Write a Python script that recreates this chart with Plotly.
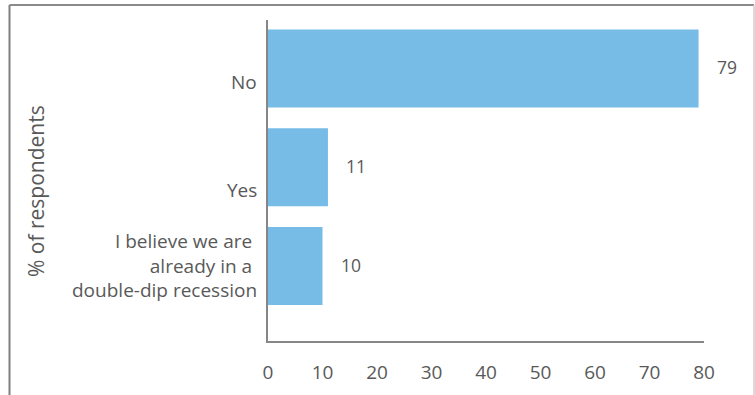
import plotly.graph_objects as go

categories = ["No", "Yes", "I believe we are <br>already in a <br>double-dip recession"]
values = [79, 11, 10]
value_labels = ["79", "11", "10"]
x_ticks = [0, 10, 20, 30, 40, 50, 60, 70, 80]
y_title = "% of respondents"

FONT = "Open Sans"
TXT = "#595959"
BAR = "#77BCE7"

fig = go.Figure()
fig.add_trace(go.Bar(
    y=categories, x=values, orientation="h",
    marker=dict(color=BAR, line=dict(width=0)),
    width=0.79, hoverinfo="skip",
))

W, H = 755, 395
L, R, T, B = 268, 51, 20, 54
pw, ph = W - L - R, H - T - B

def px_x(p):
    return (p - L) / pw

def px_y(p):
    return (H - B - p) / ph

annotations = []
label_shift = [-14, -23, 0]
for c, s in zip(categories, label_shift):
    annotations.append(dict(x=0, y=c, xref="x", yref="y", text=c.replace(" <br>", "&nbsp;<br>"),
                            showarrow=False, xanchor="right", yanchor="middle",
                            xshift=-9, yshift=s, align="right",
                            font=dict(family=FONT, size=19, color=TXT)))
for c, v, t in zip(categories, values, value_labels):
    annotations.append(dict(x=v, y=c, xref="x", yref="y", text=t, showarrow=False,
                            xanchor="left", yanchor="middle", xshift=16, yshift=1,
                            font=dict(family=FONT, size=17.5, color=TXT)))
annotations.append(dict(x=px_x(36), y=px_y(191), xref="paper", yref="paper", text=y_title,
                        textangle=-90, showarrow=False, xanchor="center", yanchor="middle",
                        font=dict(family=FONT, size=21, color=TXT)))

shapes = [
    dict(type="line", xref="paper", yref="paper", x0=px_x(9.5), x1=px_x(9.5),
         y0=px_y(5), y1=px_y(400), line=dict(color="#7f7f7f", width=2)),
    dict(type="line", xref="paper", yref="paper", x0=px_x(9.5), x1=px_x(754),
         y0=px_y(5), y1=px_y(5), line=dict(color="#8a8a8a", width=2)),
    dict(type="line", xref="paper", yref="paper", x0=px_x(754), x1=px_x(754),
         y0=px_y(5), y1=px_y(400), line=dict(color="#cfcfcf", width=1.5)),
]

fig.update_layout(
    width=W, height=H,
    margin=dict(l=L, r=R, t=T, b=B, pad=0, autoexpand=False),
    paper_bgcolor="white", plot_bgcolor="white",
    showlegend=False,
    annotations=annotations,
    shapes=shapes,
    xaxis=dict(range=[0, 80], tickvals=x_ticks, ticktext=[str(t) for t in x_ticks],
               showgrid=False, zeroline=False, showline=True, linecolor="#868686", linewidth=1.5,
               ticks="", ticklabelstandoff=13, automargin=False,
               tickfont=dict(family=FONT, size=19, color=TXT), fixedrange=True),
    yaxis=dict(categoryorder="array", categoryarray=categories, range=[2.76, -0.49],
               showticklabels=False, showgrid=False, zeroline=False, showline=True,
               linecolor="#868686", linewidth=1.5, ticks="", fixedrange=True, automargin=False),
)

fig.write_html("out.html")
